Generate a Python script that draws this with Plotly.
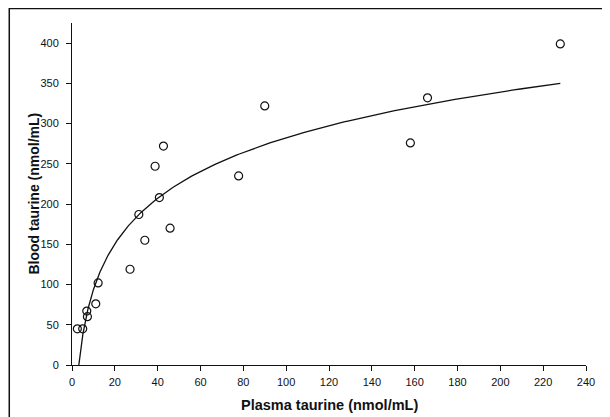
import numpy as np
import plotly.graph_objects as go

# Data
plasma_taurine = [2.5, 5.0, 6.9, 7.2, 11.1, 12.2, 27.1, 31.2, 34.0, 38.8, 40.8, 42.7,
                  45.8, 77.8, 90.0, 158.0, 166.0, 228.0]
blood_taurine = [45, 45, 67, 60, 76, 102, 119, 187, 155, 247, 208, 272,
                 170, 235, 322, 276, 332, 399]

# Logarithmic fit drawn in the reference: y = a + b*ln(x)
fit_intercept = -95.2
fit_slope = 82.0
fit_x_min = 3.19
fit_x_max = 228.0

x_ticks = [0, 20, 40, 60, 80, 100, 120, 140, 160, 180, 200, 220, 240]
y_ticks = [0, 50, 100, 150, 200, 250, 300, 350, 400]

x_title = "Plasma taurine (nmol/mL)"
y_title = "Blood taurine (nmol/mL)"

fx = np.geomspace(fit_x_min, fit_x_max, 300)
fy = fit_intercept + fit_slope * np.log(fx)

fig = go.Figure()
fig.add_trace(go.Scatter(x=fx, y=fy, mode="lines",
                         line=dict(color="#111111", width=1.3),
                         hoverinfo="skip", showlegend=False))
fig.add_trace(go.Scatter(x=plasma_taurine, y=blood_taurine, mode="markers",
                         marker=dict(symbol="circle-open", size=8,
                                     color="#111111", line=dict(width=1.2)),
                         showlegend=False, cliponaxis=False))

# page has an 8px body margin, so the figure is 8px smaller than the window
W, H = 602, 409
ml, mr, mt, mb = 63.5, 24.3, 15.2, 51.7
pw = W - ml - mr
ph = H - mt - mb

fig.update_layout(
    width=W, height=H,
    margin=dict(l=ml, r=mr, t=mt, b=mb, pad=0, autoexpand=False),
    paper_bgcolor="white", plot_bgcolor="white",
    font=dict(family="Liberation Sans, Arial, sans-serif", size=11, color="#111111"),
    xaxis=dict(range=[0, 240], tickvals=x_ticks, ticks="outside", ticklen=5,
               ticklabelstandoff=2,
               tickcolor="#111111", showline=True, linecolor="#111111", linewidth=1,
               showgrid=False, zeroline=False, tickfont=dict(size=11)),
    yaxis=dict(range=[0, 425], tickvals=y_ticks, ticks="outside", ticklen=5,
               ticklabelstandoff=5,
               tickcolor="#111111", showline=True, linecolor="#111111", linewidth=1,
               showgrid=False, zeroline=False, tickfont=dict(size=11)),
    annotations=[
        dict(text="<b>" + x_title + "</b>", xref="paper", yref="paper",
             x=0.5, y=(H - mb - 397) / ph, showarrow=False,
             xanchor="center", yanchor="middle", font=dict(size=14.5)),
        dict(text="<b>" + y_title + "</b>", xref="paper", yref="paper",
             x=(25 - ml) / pw, y=0.5, textangle=-90, showarrow=False,
             xanchor="center", yanchor="middle", font=dict(size=14)),
    ],
    shapes=[
        dict(type="rect", xref="paper", yref="paper",
             x0=(0.75 - ml) / pw, x1=(W + 20 - ml) / pw,
             y0=-(mb + 20) / ph, y1=(H - mb - 0.75) / ph,
             line=dict(color="#111111", width=1.5), fillcolor="rgba(0,0,0,0)",
             layer="above"),
    ],
)

fig.write_html("out.html")
